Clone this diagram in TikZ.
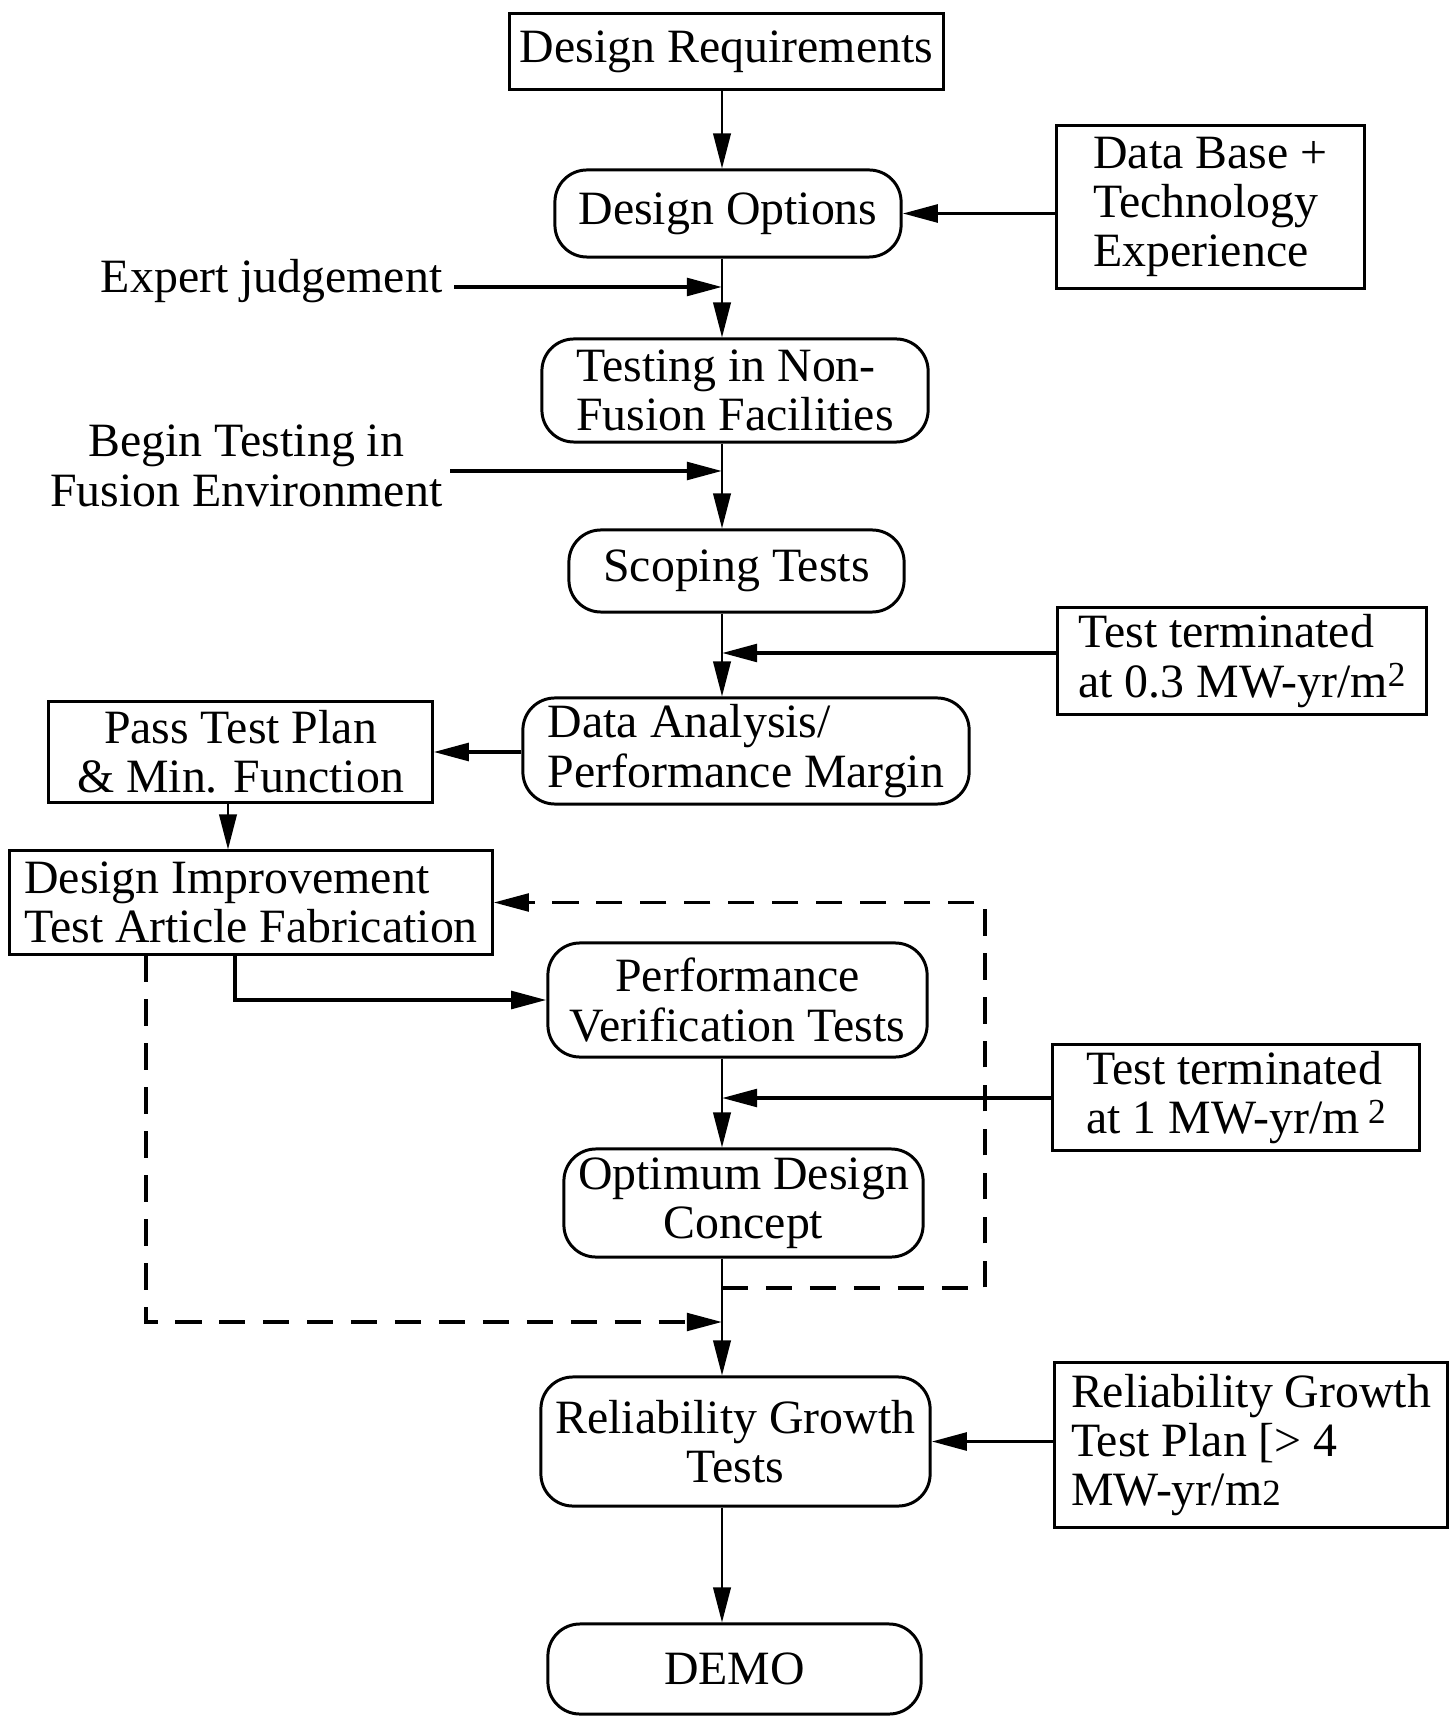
\documentclass[tikz,border=0pt]{standalone}
\usepackage{fontspec}
\setmainfont{Liberation Serif}
\usetikzlibrary{arrows.meta}
\tikzstyle{every picture}=[>={Triangle[length=10pt,width=5pt]}]
\tikzstyle{every node}=[font=\fontsize{13.6}{14}\selectfont]
\tikzstyle{plainbox}=[draw, line width=0.85pt, inner sep=0pt, align=center]
\tikzstyle{roundbox}=[plainbox, rounded corners=0.32cm]
\tikzstyle{flowarrow}=[->, line width=0.65pt]
\tikzstyle{feedarrow}=[->, line width=1.1pt]
\tikzstyle{dashedloop}=[->, line width=1pt, dash pattern=on 7.5pt off 5pt]

\begin{document}
\begin{tikzpicture}[x=0.01cm,y=-0.01cm]
    \useasboundingbox (0,0) rectangle (1449,1716);
    % main column
    \node[plainbox, minimum width=4.33cm, minimum height=0.75cm] (req) at (726.5,51.5) {Design Requirements};
    \node[roundbox, minimum width=3.46cm, minimum height=0.87cm] (opt) at (728,213.5) {Design Options};
    \node[roundbox, align=left, minimum width=3.86cm, minimum height=1.03cm] (nonfusion) at (735,390.5) {Testing in Non-\\Fusion Facilities};
    \node[roundbox, minimum width=3.35cm, minimum height=0.82cm] (scoping) at (736.5,571) {Scoping Tests};
    \node[roundbox, align=left, minimum width=4.46cm, minimum height=1.06cm] (analysis) at (746,751) {Data Analysis/\\Performance Margin};
    \node[roundbox, minimum width=3.79cm, minimum height=1.14cm] (verify) at (737.5,1000) {Performance\\Verification Tests};
    \node[roundbox, minimum width=3.59cm, minimum height=1.08cm] (optimum) at (743.5,1203) {Optimum Design\\Concept};
    \node[roundbox, minimum width=3.89cm, minimum height=1.29cm] (growth) at (735.5,1441.5) {Reliability Growth\\Tests};
    \node[roundbox, minimum width=3.73cm, minimum height=0.9cm] (demo) at (734.5,1669) {DEMO};
    % side inputs
    \node[plainbox, align=left, minimum width=3.07cm, minimum height=1.62cm] (base) at (1210.5,207) {Data Base +\\Technology\\Experience};
    \node[anchor=east, inner xsep=0.11cm, inner ysep=0pt] (expert) at (454,281) {Expert judgement};
    \node[anchor=east, align=center, inner xsep=0.07cm, inner ysep=0pt] (begin) at (450,466) {Begin Testing in\\Fusion Environment};
    \node[plainbox, align=left, minimum width=3.68cm, minimum height=1.06cm] (term1) at (1242,661) {Test terminated\\at 0.3 MW-yr/m\raisebox{0.5ex}{\fontsize{10}{10}\selectfont 2}};
    \node[plainbox, align=left, minimum width=3.66cm, minimum height=1.05cm] (term2) at (1236,1097.5) {Test terminated\\at 1 MW-yr/m\,\raisebox{0.45ex}{\fontsize{10}{10}\selectfont 2}};
    \node[plainbox, align=left, minimum width=3.92cm, minimum height=1.64cm] (plan) at (1251,1445) {Reliability Growth\\Test Plan [> 4\\MW-yr/m{\fontsize{10.5}{10.5}\selectfont 2}};
    % left branch
    \node[plainbox, minimum width=3.83cm, minimum height=1.0cm] (passplan) at (240.5,752) {Pass Test Plan\\\& Min. Function};
    \node[plainbox, align=left, minimum width=4.82cm, minimum height=1.03cm] (improve) at (251,902.5) {Design Improvement\\Test Article Fabrication};
    % junctions
    \coordinate (spine) at (722,0);
    \coordinate (jexpert) at (722,287);
    \coordinate (jbegin) at (722,471);
    \coordinate (jterm1) at (722,653);
    \coordinate (jterm2) at (722,1098);
    \coordinate (jloop) at (722,1288);
    \coordinate (jleft) at (722,1322);
    \coordinate (passdrop) at (228,0);
    \coordinate (improvedrop) at (235,0);
    \coordinate (loopright) at (985,0);
    \coordinate (loopleft) at (146,0);
    % connectors
    \draw[flowarrow] (req.south -| spine) -- (opt.north -| spine);
    \draw[flowarrow] (opt.south -| spine) -- (nonfusion.north -| spine);
    \draw[flowarrow] (nonfusion.south -| spine) -- (scoping.north -| spine);
    \draw[flowarrow] (scoping.south -| spine) -- (analysis.north -| spine);
    \draw[flowarrow] (verify.south -| spine) -- (optimum.north -| spine);
    \draw[flowarrow] (optimum.south -| spine) -- (growth.north -| spine);
    \draw[flowarrow] (growth.south -| spine) -- (demo.north -| spine);
    \draw[feedarrow] (base.west |- opt.east) -- (opt.east);
    \draw[feedarrow] (expert.east |- jexpert) -- (jexpert);
    \draw[feedarrow] (begin.east |- jbegin) -- (jbegin);
    \draw[feedarrow] (term1.west |- jterm1) -- (jterm1);
    \draw[feedarrow] (term2.west |- jterm2) -- (jterm2);
    \draw[feedarrow] (plan.west |- growth.east) -- (growth.east);
    \draw[feedarrow] (analysis.west |- passplan.east) -- (passplan.east);
    \draw[flowarrow] (passplan.south -| passdrop) -- (improve.north -| passdrop);
    \draw[feedarrow] (improve.south -| improvedrop) |- (verify.west);
    \draw[dashedloop] (jloop) -| (loopright |- improve.east) -- (improve.east);
    \draw[dashedloop] (improve.south -| loopleft) |- (jleft);
\end{tikzpicture}
\end{document}
